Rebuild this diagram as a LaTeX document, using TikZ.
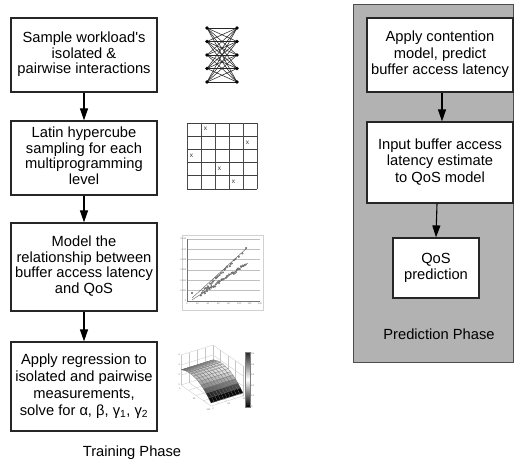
\documentclass[tikz,border=0pt]{standalone}
\usepackage{fontspec}
\setmainfont{Liberation Sans}
\usetikzlibrary{arrows.meta,calc}

% centred block of lines, one line per row
\newcommand{\linesblock}[1]{\begin{tabular}{@{}c@{}}#1\end{tabular}}

\begin{document}
\begin{tikzpicture}[x=1pt,y=-1pt,
  stepbox/.style={draw=black!85,line width=1.2pt,fill=white,
    font=\fontsize{14.7}{15.6}\selectfont,inner sep=0pt,minimum width=146pt},
  widelines/.style={font=\fontsize{14.7}{16.6}\selectfont},
  flow/.style={-{Triangle[length=12pt,width=8pt]},line width=1.1pt,black},
  panel/.style={draw=black!70,line width=1pt,fill=black!30},
  caption/.style={font=\fontsize{14.7}{16.5}\selectfont},
  tiny/.style={font=\fontsize{2.3}{3}\selectfont,text=black!60,inner sep=0.3pt},
  declare function={
    hh(\u)=3+15*(1-((\u-0.3)/0.7)^2);
    px(\u,\v)=(1-\u)*(1-\v)*181+(1-\u)*\v*213+\u*(1-\v)*211+\u*\v*243;
    py(\u,\v)=(1-\u)*(1-\v)*385+(1-\u)*\v*375+\u*(1-\v)*406+\u*\v*396-hh(\u);
  }]
\useasboundingbox (0,0) rectangle (514,463);

% ---------- prediction phase panel ----------
\node[panel,minimum width=160pt,minimum height=358pt] (panel) at (433,183) {};
\node[stepbox,widelines,minimum height=74pt] (p1) at (440,55)
  {\linesblock{Apply contention\\model, predict\\buffer access latency}};
\node[stepbox,widelines,minimum height=81pt] (p2) at (440,162.5)
  {\linesblock{Input buffer access\\latency estimate\\to QoS model}};
\node[stepbox,widelines,minimum width=86pt,minimum height=60pt] (p3) at (436,268)
  {\linesblock{QoS\\prediction}};
\node[caption] (predlbl) at (439,334) {Prediction Phase};
\draw[flow] ([xshift=2pt]p1.south) -- ([xshift=2pt]p2.north);
\draw[flow] ([xshift=-3pt]p2.south) -- (p3.north);

% ---------- training phase chain ----------
\node[stepbox,minimum height=74pt] (s1) at (84,55)
  {\linesblock{Sample workload\textquotesingle s\\isolated \&\\pairwise interactions}};
\node[stepbox,minimum height=74pt] (s2) at (84,158)
  {\linesblock{Latin hypercube\\sampling for each\\multiprogramming\\level}};
\node[stepbox,minimum height=88pt] (s3) at (84,267)
  {\linesblock{Model the\\relationship between\\buffer access latency\\and QoS}};
\node[stepbox,font=\fontsize{14.7}{17.2}\selectfont,minimum height=89pt] (s4) at (84,386.5)
  {\linesblock{Apply regression to\\isolated and pairwise\\measurements,\\solve for α, β, γ\textsubscript{1}, γ\textsubscript{2}}};
\node[caption] (trainlbl) at (132,453) {Training Phase};
\draw[flow] (s1) -- (s2);
\draw[flow] (s2) -- (s3);
\draw[flow] (s3) -- (s4);

% ---------- icon: pairwise interaction graph ----------
\foreach \i/\yy in {0/28,1/41.5,2/55,3/68.5,4/82}{
  \coordinate (nl\i) at (207,\yy);
  \coordinate (nr\i) at (237,\yy);
}
\foreach \i in {0,...,4}{
  \foreach \j in {0,...,4}{
    \draw[line width=0.55pt,black!85] (nl\i) -- (nr\j);
  }
}
\foreach \i in {0,...,4}{
  \fill (nl\i) circle (1.9pt);
  \fill (nr\i) circle (1.9pt);
}

% ---------- icon: latin hypercube grid ----------
\foreach \k in {0,...,5}{
  \draw[line width=0.9pt,black!70] (187+14*\k,123) -- (187+14*\k,189);
  \draw[line width=1pt,black!75] (187,123+13.2*\k) -- (257,123+13.2*\k);
}
\foreach \r/\c in {1/2,2/5,3/1,4/3,5/4}{
  \node[font=\fontsize{6.5}{7}\selectfont,inner sep=0pt,text=black!80]
    at (187+14*\c-14+4.5,123+13.2*\r-13.2+6.2) {x};
}

% ---------- icon: latency vs QoS scatter ----------
\draw[black!18,line width=0.5pt] (182,235) rectangle (263,310);
\foreach \k in {0,...,5}{
  \draw[black!25,line width=0.35pt] (187,239+10.33*\k) -- (260,239+10.33*\k);
}
\draw[black!55,line width=0.4pt] (187,239) -- (187,301) -- (260,301);
\foreach \k/\lab in {0/0.012,1/0.01,2/0.008,3/0.006,4/0.004,5/0.002,6/0}{
  \node[tiny,anchor=east] at (186.6,239+10.33*\k) {\lab};
}
\foreach \k/\lab in {0/0,1/20,2/40,3/60,4/80,5/100,6/120,7/140}{
  \node[tiny,anchor=north] at (187+10.43*\k,302.5) {\lab};
}
\draw[black!70,line width=0.35pt] (192,298) -- (247,248);
\draw[black!70,line width=0.35pt] (192,300) -- (248,263);
\pgfmathsetseed{7}
\foreach \t in {0,0.03,...,0.72,0.8,0.9,1}{
  \pgfmathsetmacro\jx{rand*1.2}
  \pgfmathsetmacro\jy{rand*1.2}
  \draw[black!65,fill=black!35,line width=0.25pt]
    (203+44*\t+\jx,290.5-42.5*\t+\jy) circle (0.9pt);
}
\foreach \t in {0,0.025,...,1}{
  \pgfmathsetmacro\jx{rand*1.3}
  \pgfmathsetmacro\jy{rand*1.3}
  \draw[black!65,fill=black!35,line width=0.25pt]
    (200+46*\t+\jx,295-30.5*\t+\jy) circle (0.9pt);
}
\draw[black!65,fill=black!35,line width=0.25pt] (192,293) circle (0.9pt);

% ---------- icon: fitted regression surface ----------
% axis box: two back walls and the floor
\begin{scope}[black!22,line width=0.3pt]
  \foreach \z in {0,10,20,30}{
    \draw (181,385-\z) -- (213,375-\z) -- (243,396-\z);
  }
  \draw (181,385) -- (181,355);
  \draw (213,375) -- (213,345);
  \draw (243,396) -- (243,366);
  \foreach \s in {0.25,0.5,0.75}{
    \draw (181+32*\s,385-10*\s) -- (211+32*\s,406-10*\s);
    \draw (181+30*\s,385+21*\s) -- (213+30*\s,375+21*\s);
    \draw (181+32*\s,385-10*\s) -- (181+32*\s,355-10*\s);
    \draw (213+30*\s,375+21*\s) -- (213+30*\s,345+21*\s);
  }
  \draw (181,385) -- (211,406) -- (243,396);
\end{scope}
\foreach \i in {0,...,11}{
  \foreach \j in {0,...,9}{
    \pgfmathsetmacro\ua{\i/12}
    \pgfmathsetmacro\ub{(\i+1)/12}
    \pgfmathsetmacro\va{\j/10}
    \pgfmathsetmacro\vb{(\j+1)/10}
    \pgfmathsetmacro\uc{(\i+0.5)/12}
    \pgfmathsetmacro\vc{(\j+0.5)/10}
    \pgfmathtruncatemacro\g{max(4,min(90,36+42*sin(\uc*180)-64*\uc^4+18*\vc))}
    \filldraw[fill=white!\g!black,draw=black!60,line width=0.15pt]
      ({px(\ua,\va)},{py(\ua,\va)}) -- ({px(\ua,\vb)},{py(\ua,\vb)})
      -- ({px(\ub,\vb)},{py(\ub,\vb)}) -- ({px(\ub,\va)},{py(\ub,\va)}) -- cycle;
  }
}
\foreach \k/\lab in {0/0,1/2,2/4,3/6}{
  \node[tiny,anchor=east] at (180.5,385-10*\k) {\lab};
}
\foreach \k/\lab in {0/0,1/50,2/100}{
  \node[tiny,anchor=north east] at (181+15*\k,387+10.5*\k) {\lab};
  \node[tiny,anchor=north west] at (212+15*\k,407-5*\k) {\lab};
}
% colour bar
\shade[top color=black!85,bottom color=black,middle color=white] (245,352) rectangle (250,407);
\draw[black!50,line width=0.3pt] (245,352) rectangle (250,407);
\foreach \k/\lab in {0/0.5,1/0.4,2/0.3,3/0.2,4/0.1,5/0}{
  \node[tiny,anchor=west] at (250.5,354+10.5*\k) {\lab};
}
\end{tikzpicture}
\end{document}
